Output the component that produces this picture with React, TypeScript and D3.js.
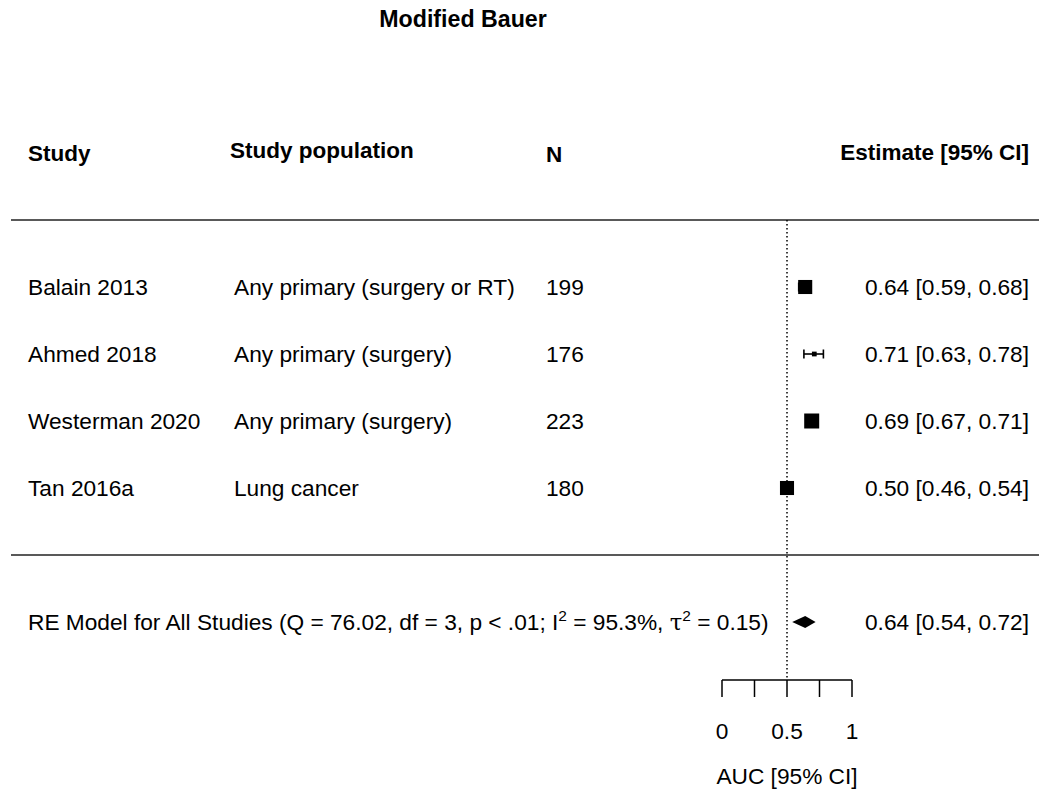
import React, { useEffect } from "react";
import * as d3 from "d3";

const title = "Modified Bauer";
const studies = ["Balain 2013", "Ahmed 2018", "Westerman 2020", "Tan 2016a"];
const populations = [
  "Any primary (surgery or RT)",
  "Any primary (surgery)",
  "Any primary (surgery)",
  "Lung cancer",
];
const sampleSizes = [199, 176, 223, 180];
const estimates = [0.64, 0.71, 0.69, 0.5];
const lowers = [0.59, 0.63, 0.67, 0.46];
const uppers = [0.68, 0.78, 0.71, 0.54];
const relWeights = [0.88, 0.1, 1.0, 0.88];
const summary = { est: 0.64, lo: 0.54, hi: 0.72 };
const axisTicks = [0, 0.25, 0.5, 0.75, 1];
const axisLabels = [0, 0.5, 1];
const refValue = 0.5;

const FONT = "'Liberation Sans', Arial, Helvetica, sans-serif";
const fmt = d3.format(".2f");

export default function App() {
  useEffect(() => {
    document.body.style.margin = "0";
  }, []);

  const W = 1039;
  const H = 791;
  const x = d3.scaleLinear().domain([0, 1]).range([722, 852]);
  // row index: studies at 4..1, summary at -1, header at 6
  const y = d3.scaleLinear().domain([1, 4]).range([488, 287]);
  const size = d3.scaleSqrt().domain([0, 1]).range([0, 15]);
  const k = studies.length;
  const rowOf = (i: number) => k - i;

  const fs = 22.7;
  const fsTitle = 23.2;
  const fsHead = 22.5;
  const axisY = y(-1) + 58;
  const lineTop = y(5);

  const diamond = d3.line<[number, number]>()([
    [x(summary.lo), y(-1)],
    [x(summary.est), y(-1) - 6],
    [x(summary.hi), y(-1)],
    [x(summary.est), y(-1) + 6],
  ]) + "Z";

  return (
    <svg width={W} height={H} style={{ display: "block", background: "#fff" }} fontFamily={FONT}>
      <text x={463} y={27} fontSize={fsTitle} fontWeight="bold" textAnchor="middle">
        {title}
      </text>

      {/* header */}
      <g fontWeight="bold" fontSize={fsHead}>
        <text x={28} y={y(6) + 8}>Study</text>
        <text x={230} y={y(6) + 5}>Study population</text>
        <text x={546} y={y(6) + 9}>N</text>
        <text x={1029} y={y(6) + 7} textAnchor="end">Estimate [95% CI]</text>
      </g>

      {/* separator lines */}
      <line x1={11} x2={W} y1={y(5)} y2={y(5)} stroke="#222" strokeWidth={1.6} />
      <line x1={11} x2={W} y1={y(0)} y2={y(0)} stroke="#222" strokeWidth={1.6} />

      {/* reference line */}
      <line
        x1={x(refValue)}
        x2={x(refValue)}
        y1={lineTop}
        y2={axisY}
        stroke="#000"
        strokeWidth={1.5}
        strokeDasharray="1.5,2.5"
      />

      {/* study rows */}
      {studies.map((s, i) => {
        const cy = y(rowOf(i));
        const sz = Math.max(size(relWeights[i]), 4.5);
        return (
          <g key={s} fontSize={fs}>
            <text x={28} y={cy + 7.5}>{s}</text>
            <text x={234} y={cy + 7.5}>{populations[i]}</text>
            <text x={546} y={cy + 7.5}>{sampleSizes[i]}</text>
            <text x={1029} y={cy + 7.5} textAnchor="end">
              {`${fmt(estimates[i])} [${fmt(lowers[i])}, ${fmt(uppers[i])}]`}
            </text>
            <line x1={x(lowers[i])} x2={x(uppers[i])} y1={cy} y2={cy} stroke="#000" strokeWidth={1.6} />
            <line x1={x(lowers[i])} x2={x(lowers[i])} y1={cy - 4.5} y2={cy + 4.5} stroke="#000" strokeWidth={1.6} />
            <line x1={x(uppers[i])} x2={x(uppers[i])} y1={cy - 4.5} y2={cy + 4.5} stroke="#000" strokeWidth={1.6} />
            <rect x={x(estimates[i]) - sz / 2} y={cy - sz / 2} width={sz} height={sz} fill="#000" />
          </g>
        );
      })}

      {/* summary row */}
      <text x={28} y={y(-1) + 7.5} fontSize={fs}>
        RE Model for All Studies (Q = 76.02, df = 3, p &lt; .01; I
        <tspan fontSize={15.5} dy={-9}>2</tspan>
        <tspan dy={9}> = 95.3%, </tspan>
        <tspan fontFamily="'DejaVu Serif', 'Liberation Serif', serif">τ</tspan>
        <tspan fontSize={15.5} dy={-9}>2</tspan>
        <tspan dy={9}> = 0.15)</tspan>
      </text>
      <path d={diamond} fill="#000" />
      <text x={1029} y={y(-1) + 7.5} fontSize={fs} textAnchor="end">
        {`${fmt(summary.est)} [${fmt(summary.lo)}, ${fmt(summary.hi)}]`}
      </text>

      {/* axis */}
      <g>
        <line x1={x(0)} x2={x(1)} y1={axisY} y2={axisY} stroke="#000" strokeWidth={1.5} />
        {axisTicks.map((t) => (
          <line key={t} x1={x(t)} x2={x(t)} y1={axisY} y2={axisY + 17} stroke="#000" strokeWidth={1.5} />
        ))}
        {axisLabels.map((t) => (
          <text key={t} x={x(t)} y={axisY + 59} fontSize={fs} textAnchor="middle">
            {d3.format("~g")(t)}
          </text>
        ))}
        <text x={x(0.5)} y={axisY + 104} fontSize={fs} textAnchor="middle">
          AUC [95% CI]
        </text>
      </g>
    </svg>
  );
}
